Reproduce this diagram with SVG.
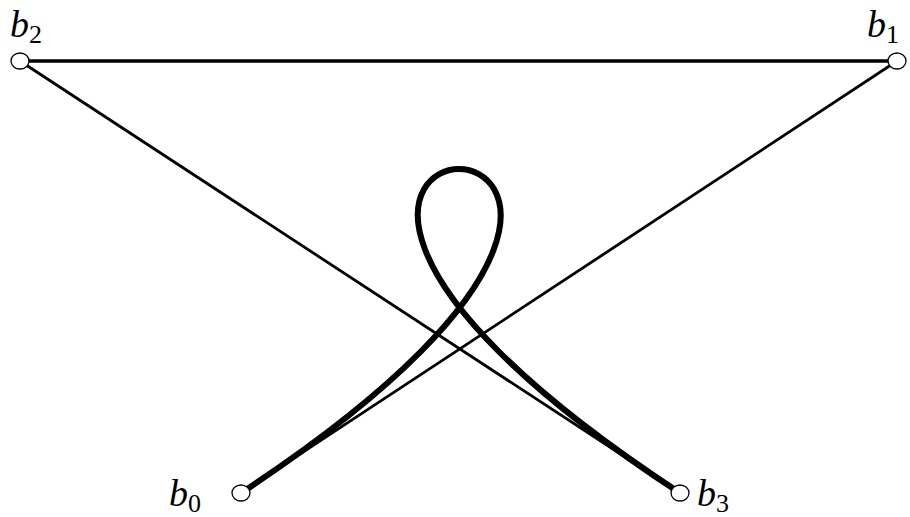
<svg xmlns="http://www.w3.org/2000/svg" width="910" height="517" viewBox="0 0 910 517">
<style>
.ln{stroke:#000;fill:none;stroke-width:2.8}
.top{stroke:#000;fill:none;stroke-width:3.5}
.curve{stroke:#000;fill:none;stroke-width:6;stroke-linecap:round}
.pt{fill:#fff;stroke:#000;stroke-width:1.3}
.lb{font-family:"Liberation Serif",serif;font-style:italic;font-size:38px;fill:#000}
.sb{font-family:"Liberation Serif",serif;font-style:normal;font-size:26px}
</style>
<rect width="910" height="517" fill="#fff"/>
<g id="connectors">
<line class="top" x1="20" y1="61" x2="897" y2="61"/>
<line class="ln" x1="20" y1="61" x2="680" y2="493"/>
<line class="ln" x1="241" y1="493" x2="897" y2="61"/>
<path class="curve" d="M241,493 C897,61 20,61 680,493"/>
</g>
<g id="b2"><ellipse class="pt" cx="20" cy="61" rx="9" ry="8"/><text class="lb" x="10" y="37">b<tspan class="sb" dy="6">2</tspan></text></g>
<g id="b1"><ellipse class="pt" cx="897" cy="61" rx="9" ry="8"/><text class="lb" x="867" y="37">b<tspan class="sb" dy="6">1</tspan></text></g>
<g id="b0"><ellipse class="pt" cx="241" cy="493" rx="9" ry="8"/><text class="lb" x="169" y="506">b<tspan class="sb" dy="6">0</tspan></text></g>
<g id="b3"><ellipse class="pt" cx="680" cy="493" rx="9" ry="8"/><text class="lb" x="697" y="506">b<tspan class="sb" dy="6">3</tspan></text></g>
</svg>
